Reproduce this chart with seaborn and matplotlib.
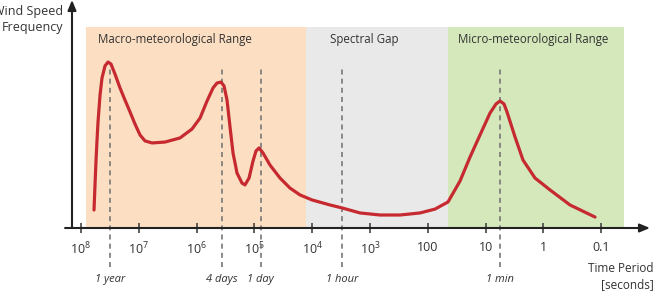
import numpy as np
import pandas as pd
import matplotlib
matplotlib.use("Agg")
import matplotlib.pyplot as plt
import seaborn as sns

# ==========================================
# DATA  (x = log10 of time period in seconds, y = relative frequency)
# ==========================================

log_period = [
    7.775, 7.758, 7.740, 7.723, 7.706, 7.671, 7.637, 7.585, 7.533, 7.481,
    7.412, 7.325, 7.239, 7.152, 7.066, 6.979, 6.893, 6.772, 6.547, 6.287,
    6.080, 5.941, 5.820, 5.716, 5.647, 5.578, 5.526, 5.474, 5.422, 5.370,
    5.301, 5.215, 5.163, 5.093, 5.024, 4.972, 4.920, 4.851, 4.730, 4.557,
    4.384, 4.211, 4.003, 3.692, 3.484, 3.173, 2.827, 2.481, 2.135, 1.875,
    1.651, 1.443, 1.270, 1.097, 0.924, 0.820, 0.751, 0.682, 0.630, 0.491,
    0.353, 0.145, -0.114, -0.460, -0.893,
]

frequency = [
    7.9, 18.9, 29.8, 38.6, 46.5, 58.3, 65.8, 71.1, 72.8, 71.9,
    67.5, 61.4, 56.1, 50.9, 45.6, 40.8, 38.2, 37.3, 37.7, 39.5,
    43.4, 48.2, 55.7, 61.4, 63.6, 64.0, 62.3, 56.1, 44.3, 32.9,
    24.1, 19.7, 18.9, 21.9, 29.4, 33.8, 35.1, 32.9, 27.6, 21.9,
    17.5, 14.5, 12.3, 10.1, 8.8, 6.6, 5.7, 5.7, 6.6, 8.3,
    11.4, 20.6, 31.1, 40.8, 50.4, 54.4, 55.7, 54.4, 50.9, 39.9,
    29.8, 21.9, 16.7, 10.1, 4.8,
]

# ranges: name, start, end (log10 seconds), colour
range_names = ["Macro-meteorological Range", "Spectral Gap", "Micro-meteorological Range"]
range_start = [7.91, 4.11, 1.65]
range_end = [4.11, 1.65, -1.39]
range_colors = ["#fcdfc2", "#e9e9e9", "#d4e8bb"]
range_label_x = [7.71, 3.69, 1.48]

# marked periods
mark_labels = ["1 year", "4 days", "1 day", "1 hour", "1 min"]
mark_pos = [7.50, 5.56, 4.89, 3.48, 0.75]

tick_pos = [8, 7, 6, 5, 4, 3, 2, 1, 0, -1]
tick_labels = ["$10^8$", "$10^7$", "$10^6$", "$10^5$", "$10^4$", "$10^3$",
               "100", "10", "1", "0.1"]

df = pd.DataFrame({"log_period": log_period, "frequency": frequency})

# ==========================================
# STYLE
# ==========================================

sns.set_style("white")
plt.rcParams["font.family"] = ["Open Sans", "DejaVu Sans"]
plt.rcParams["mathtext.fontset"] = "custom"
plt.rcParams["mathtext.rm"] = "Open Sans"
plt.rcParams["mathtext.it"] = "Open Sans:italic"

text_col = "#333333"

fig = plt.figure(figsize=(6.57, 3.0), dpi=100)
ax = fig.add_axes([72 / 657, 72 / 300, 578 / 657, 228 / 300])

ax.set_xlim(8.156, -1.844)
ax.set_ylim(0, 100)

# ==========================================
# SHADED RANGES
# ==========================================

for name, x0, x1, col, lx in zip(range_names, range_start, range_end,
                                 range_colors, range_label_x):
    ax.axvspan(x0, x1, ymin=0, ymax=0.882, color=col, lw=0, zorder=0)
    ax.text(lx, 82.5, name, ha="left", va="center",
            fontsize=8.3, color=text_col)

# ==========================================
# DASHED MARKERS
# ==========================================

ax.vlines(mark_pos, -17, 70.5, colors="#777777", linestyles=(0, (3, 2.5)),
          lw=1.2, clip_on=False, zorder=1)
for lab, x in zip(mark_labels, mark_pos):
    ax.text(x, -22.4, lab, ha="center", va="center", fontsize=8,
            style="italic", color=text_col, clip_on=False)

# ==========================================
# CURVE
# ==========================================

sns.lineplot(data=df, x="log_period", y="frequency", ax=ax,
             color="#c62a30", lw=2.3, sort=False, zorder=3)
ax.lines[-1].set_solid_capstyle("round")
ax.lines[-1].set_solid_joinstyle("round")

# ==========================================
# AXES
# ==========================================

for s in ax.spines.values():
    s.set_visible(False)

ax.annotate("", xy=(1.0, 0), xytext=(-0.012, 0), xycoords="axes fraction",
            arrowprops=dict(arrowstyle="-|>,head_length=0.6,head_width=0.25",
                            color="#222222", lw=1.5, shrinkA=0, shrinkB=0))
ax.annotate("", xy=(0, 1.0), xytext=(0, 0), xycoords="axes fraction",
            arrowprops=dict(arrowstyle="-|>,head_length=0.6,head_width=0.25",
                            color="#222222", lw=1.5, shrinkA=0, shrinkB=0))

ax.set_xticks(tick_pos)
ax.set_xticklabels(tick_labels)
ax.tick_params(axis="x", direction="inout", length=7, width=1.2,
               color="#444444", pad=6, labelsize=9, labelcolor=text_col,
               bottom=True)
ax.set_yticks([])
ax.set_xlabel("")
ax.set_ylabel("")

fig.text(63 / 657, 1 - 20 / 300, "Wind Speed\nFrequency", ha="right",
         va="center", fontsize=9, color=text_col, linespacing=1.3,
         multialignment="right")
fig.text(654 / 657, 1 - 277 / 300, "Time Period\n[seconds]", ha="right",
         va="center", fontsize=8.5, color=text_col, linespacing=1.3,
         multialignment="right")

fig.savefig("out.png", dpi=100)
